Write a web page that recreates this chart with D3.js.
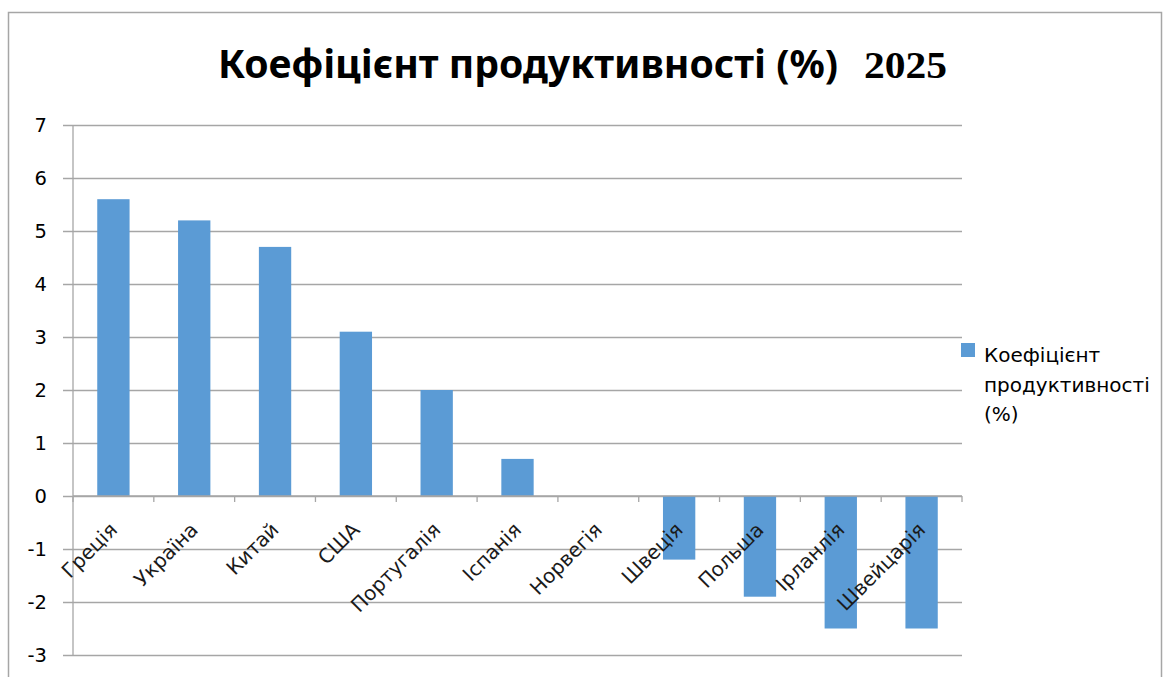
<!DOCTYPE html>
<html>
<head>
<meta charset="utf-8">
<script src="https://cdn.jsdelivr.net/npm/d3@7"></script>
<style>
  html, body { margin: 0; padding: 0; background: #fff; }
  svg { display: block; }
  text { font-family: "DejaVu Sans", "Noto Sans", sans-serif; }
</style>
</head>
<body>
<svg id="chart" width="1171" height="677"></svg>
<script>
// Productivity coefficient by country, 2025
const categories = ["Греція", "Україна", "Китай", "США", "Португалія", "Іспанія",
                    "Норвегія", "Швеція", "Польша", "Ірланлія", "Швейцарія"];
const values = [5.6, 5.2, 4.7, 3.1, 2.0, 0.7, 0, -1.2, -1.9, -2.5, -2.5];
const yTicks = [7, 6, 5, 4, 3, 2, 1, 0, -1, -2, -3];
const seriesName = ["Коефіцієнт", "продуктивності", "(%)"];
const titleMain = "Коефіцієнт продуктивності (%)";
const titleYear = "2025";

const W = 1171, H = 677;
const plot = { left: 73, right: 962, top: 125, bottom: 655 };
const barColor = "#5B9BD5";
const gridColor = "#A6A6A6";

const svg = d3.select("#chart");

// Outer chart frame
svg.append("rect")
  .attr("x", 8.5).attr("y", 12.5)
  .attr("width", 1153).attr("height", 700)
  .attr("fill", "#fff").attr("stroke", "#A6A6A6").attr("stroke-width", 1.5);

// Title: sans part plus bold serif year
svg.append("text")
  .attr("x", 218).attr("y", 78)
  .style("font-family", "'Noto Sans', sans-serif")
  .attr("font-size", 40).attr("font-weight", "bold")
  .attr("textLength", 620).attr("lengthAdjust", "spacingAndGlyphs")
  .attr("fill", "#000")
  .text(titleMain);
svg.append("text")
  .attr("x", 864).attr("y", 78)
  .style("font-family", "'Liberation Serif', 'Times New Roman', serif")
  .attr("font-size", 37).attr("font-weight", "bold")
  .attr("textLength", 83).attr("lengthAdjust", "spacingAndGlyphs")
  .attr("fill", "#000")
  .text(titleYear);

const y = d3.scaleLinear()
  .domain([d3.min(yTicks), d3.max(yTicks)])
  .range([plot.bottom, plot.top]);

const x = d3.scaleBand()
  .domain(categories)
  .range([plot.left, plot.right])
  .paddingInner(0.6)
  .paddingOuter(0.3);

// Horizontal gridlines with y labels
const yAxis = d3.axisLeft(y)
  .tickValues(yTicks)
  .tickSize(-(plot.right - 63))
  .tickPadding(16)
  .tickFormat(d => String(d));

const gy = svg.append("g")
  .attr("transform", "translate(63,0)")
  .call(yAxis);
gy.select(".domain").remove();
gy.selectAll(".tick line").attr("stroke", gridColor).attr("stroke-width", 1.3);
gy.selectAll(".tick text")
  .attr("fill", "#000")
  .attr("font-size", 19.5)
  .style("font-family", "'DejaVu Sans', sans-serif");

// Vertical value axis line
svg.append("line")
  .attr("x1", plot.left).attr("x2", plot.left)
  .attr("y1", y(d3.max(yTicks))).attr("y2", y(d3.min(yTicks)))
  .attr("stroke", gridColor).attr("stroke-width", 1.3);

// Bars
svg.append("g").selectAll("rect")
  .data(categories.map((c, i) => ({ c, v: values[i] })))
  .join("rect")
  .attr("x", d => x(d.c))
  .attr("width", x.bandwidth())
  .attr("y", d => y(Math.max(0, d.v)))
  .attr("height", d => Math.abs(y(d.v) - y(0)))
  .attr("fill", barColor);

// Category axis on zero line: tick marks between categories
const half = (x.step() - x.bandwidth()) / 2;
const bounds = categories.map(c => x(c) - half).concat([plot.right]);
svg.append("g").selectAll("line")
  .data(bounds)
  .join("line")
  .attr("x1", d => d).attr("x2", d => d)
  .attr("y1", y(0)).attr("y2", y(0) + 6)
  .attr("stroke", gridColor).attr("stroke-width", 1.3);
svg.append("line")
  .attr("x1", plot.left).attr("x2", plot.right)
  .attr("y1", y(0)).attr("y2", y(0))
  .attr("stroke", gridColor).attr("stroke-width", 1.3);

// Rotated category labels
svg.append("g").selectAll("text")
  .data(categories)
  .join("text")
  .attr("transform", c => `translate(${x(c) + x.bandwidth() / 2 + 5},${y(0) + 35}) rotate(-45)`)
  .attr("text-anchor", "end")
  .attr("font-size", 20)
  .attr("fill", "#1a1a1a")
  .text(c => c);

// Legend
const lg = svg.append("g").attr("transform", "translate(961,343)");
lg.append("rect").attr("width", 14).attr("height", 14).attr("fill", barColor);
lg.selectAll("text")
  .data(seriesName)
  .join("text")
  .attr("x", 23)
  .attr("y", (d, i) => 19 + i * 29.5)
  .attr("font-size", 20)
  .attr("fill", "#000")
  .text(d => d);
</script>
</body>
</html>
